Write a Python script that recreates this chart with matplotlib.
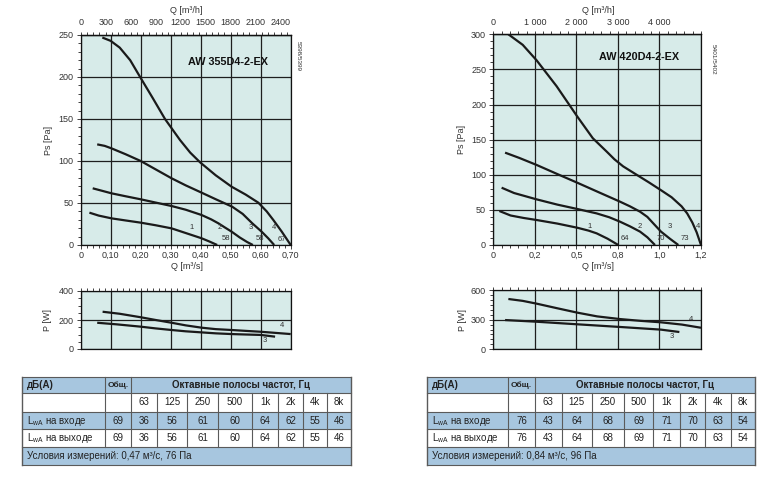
import numpy as np
import matplotlib
matplotlib.use('Agg')
import matplotlib.pyplot as plt
from matplotlib.ticker import MultipleLocator
from matplotlib.patches import Rectangle

plt.rcParams['font.family'] = ['Liberation Sans', 'DejaVu Sans']
plt.rcParams['mathtext.fontset'] = 'custom'
plt.rcParams['mathtext.rm'] = 'Liberation Sans'

# ---------------- DATA ----------------
# Left chart: AW 355D4-2-EX
title_L = "AW 355D4-2-EX"
code_L = "5398/5399"
xticks_L = [0, 0.1, 0.2, 0.3, 0.4, 0.5, 0.6, 0.7]
xlabels_L = ["0", "0,10", "0,20", "0,30", "0,40", "0,50", "0,60", "0,70"]
top_ticks_L = [0, 300, 600, 900, 1200, 1500, 1800, 2100, 2400]
yticks_ps_L = [0, 50, 100, 150, 200, 250]
yticks_p_L = [0, 200, 400]

q1_L = [0.029, 0.06, 0.103, 0.15, 0.2, 0.25, 0.303, 0.353, 0.403, 0.43, 0.455]
ps1_L = [38.5, 35.0, 31.7, 29.2, 26.6, 23.5, 19.8, 13.9, 8.0, 4.0, 0.0]
q2_L = [0.04, 0.103, 0.15, 0.2, 0.25, 0.303, 0.35, 0.403, 0.435, 0.459, 0.48, 0.503, 0.53, 0.555, 0.574]
ps2_L = [67.5, 61.5, 58.0, 54.4, 50.5, 46.4, 42.0, 35.7, 30.5, 25.8, 21.0, 15.9, 9.0, 3.5, 0.0]
q3_L = [0.055, 0.08, 0.103, 0.15, 0.2, 0.25, 0.303, 0.35, 0.403, 0.45, 0.505, 0.54, 0.572, 0.603, 0.625, 0.645]
ps3_L = [119.8, 118.0, 115.0, 108.0, 100.0, 90.0, 79.4, 71.0, 62.3, 54.5, 45.6, 37.0, 25.8, 15.9, 8.0, 0.0]
q4_L = [0.072, 0.10, 0.13, 0.165, 0.198, 0.24, 0.281, 0.331, 0.365, 0.398, 0.45, 0.503, 0.55, 0.592, 0.62, 0.642, 0.67, 0.70]
ps4_L = [247, 243, 235, 220, 200, 175, 150, 125, 110, 98.4, 83, 69.4, 60, 50.4, 40, 29.8, 16, 0.0]
curve_num_L = ["1", "2", "3", "4"]
curve_num_pos_L = [(0.37, 20.6), (0.465, 20.6), (0.568, 20.6), (0.645, 20.6)]
eff_L = ["58", "58", "67"]
eff_pos_L = [(0.483, 8.0), (0.598, 8.0), (0.670, 7.1)]

qp4_L = [0.073, 0.13, 0.2, 0.25, 0.303, 0.35, 0.403, 0.45, 0.503, 0.55, 0.6, 0.65, 0.70]
p4_L = [257, 243, 219, 200, 181, 163, 147, 137, 131, 125, 119, 111, 103]
qp3_L = [0.055, 0.12, 0.2, 0.25, 0.303, 0.35, 0.40, 0.45, 0.503, 0.55, 0.6, 0.648]
p3_L = [181, 170, 154, 142, 131, 122, 115, 108, 103, 100, 97, 85]
pnum_pos_L = {"4": (0.672, 160), "3": (0.614, 57)}

# Right chart: AW 420D4-2-EX
title_R = "AW 420D4-2-EX"
code_R = "5401/5402"
xticks_R = [0, 0.24, 0.48, 0.72, 0.96, 1.2]
xlabels_R = ["0", "0,2", "0,5", "0,8", "1,0", "1,2"]
top_labels_R = ["0", "1 000", "2 000", "3 000", "4 000"]
yticks_ps_R = [0, 50, 100, 150, 200, 250, 300]
yticks_p_R = [0, 300, 600]

q1_R = [0.035, 0.1, 0.175, 0.25, 0.37, 0.485, 0.55, 0.597, 0.66, 0.722]
ps1_R = [48.4, 42.0, 38.5, 35.6, 30.5, 24.6, 20.5, 16.6, 9.0, 0.0]
q2_R = [0.048, 0.12, 0.25, 0.37, 0.485, 0.597, 0.67, 0.732, 0.79, 0.848, 0.89, 0.934]
ps2_R = [81.6, 74.0, 65.0, 57.5, 51.3, 45.0, 39.5, 33.2, 26.5, 19.0, 11.0, 0.0]
q3_R = [0.068, 0.15, 0.25, 0.37, 0.485, 0.61, 0.732, 0.79, 0.848, 0.89, 0.924, 0.969, 1.02, 1.069]
ps3_R = [131.5, 124.0, 114.0, 101.0, 88.7, 75.0, 61.7, 55.0, 47.4, 40.0, 30.9, 19.0, 9.0, 0.0]
q4_R = [0.087, 0.17, 0.25, 0.366, 0.485, 0.575, 0.655, 0.70, 0.75, 0.815, 0.9, 0.969, 1.03, 1.088, 1.12, 1.15, 1.175, 1.2]
ps4_R = [300, 285, 263, 226, 183, 152, 133, 122, 112, 102, 89, 78, 68, 55, 45, 32, 18, 0.0]
curve_num_R = ["1", "2", "3", "4"]
curve_num_pos_R = [(0.559, 26), (0.843, 26), (1.02, 26), (1.181, 26)]
eff_R = ["64", "70", "73"]
eff_pos_R = [(0.761, 9.5), (0.967, 9.5), (1.107, 9.5)]

qp4_R = [0.087, 0.17, 0.25, 0.37, 0.485, 0.6, 0.732, 0.85, 0.969, 1.09, 1.2]
p4_R = [509, 490, 462, 415, 371, 333, 306, 288, 273, 250, 218]
qp3_R = [0.068, 0.25, 0.485, 0.732, 0.969, 1.075]
p3_R = [296, 279, 253, 226, 199, 175]
pnum_pos_R = {"4": (1.14, 303), "3": (1.034, 127)}

# Tables
bands = ["63", "125", "250", "500", "1k", "2k", "4k", "8k"]
total_L = 69
inlet_L = [36, 56, 61, 60, 64, 62, 55, 46]
outlet_L = [36, 56, 61, 60, 64, 62, 55, 46]
cond_L = "Условия измерений: 0,47 м³/с, 76 Па"
total_R = 76
inlet_R = [43, 64, 68, 69, 71, 70, 63, 54]
outlet_R = [43, 64, 68, 69, 71, 70, 63, 54]
cond_R = "Условия измерений: 0,84 м³/с, 96 Па"

# ---------------- STYLE ----------------
W, H = 772, 478
BG = '#d7ebe9'
GRID = '#1e1e1e'
TXT = '#333333'
LINE = '#1a1a1a'
BLUE = '#a7c6df'
FS_TICK = 6.5

fig = plt.figure(figsize=(W / 100, H / 100), dpi=100)


def rect(l, r, t, b):
    return [l / W, 1 - b / H, (r - l) / W, (b - t) / H]


def style_common(ax):
    ax.set_facecolor(BG)
    for s in ax.spines.values():
        s.set_color('#111111')
        s.set_linewidth(0.9)
    ax.grid(True, which='major', color=GRID, lw=0.9)
    ax.set_axisbelow(True)
    ax.tick_params(which='both', direction='out', colors='#222222',
                   labelcolor=TXT, labelsize=FS_TICK, width=0.6)
    ax.tick_params(which='major', length=2.6)
    ax.tick_params(which='minor', length=2.0)
    ax.tick_params(axis='y', pad=2.6)
    ax.tick_params(axis='x', pad=1.6)


def main_chart(ax, xmax, xt, xl, minor_x, ymax, yt, curves, nums, npos, effs, epos, title, tpos):
    style_common(ax)
    ax.set_xlim(0, xmax)
    ax.set_ylim(0, ymax)
    ax.set_xticks(xt, xl)
    ax.xaxis.set_minor_locator(MultipleLocator(minor_x))
    ax.set_yticks(yt)
    ax.yaxis.set_minor_locator(MultipleLocator(10))
    for q, ps in curves:
        ax.plot(q, ps, color=LINE, lw=1.6, zorder=3, solid_capstyle='butt', solid_joinstyle='round')
    for t, (x, y) in zip(nums, npos):
        ax.text(x, y, t, fontsize=5.5, color=TXT, ha='center', va='center', zorder=4)
    for t, (x, y) in zip(effs, epos):
        ax.text(x, y, t, fontsize=5.5, color=TXT, ha='center', va='center', zorder=4)
    ax.text(tpos[0], tpos[1], title, fontsize=7.8, fontweight='bold', color='#111111',
            ha='center', va='center', zorder=4)


def power_chart(ax, xmax, xt, minor_x, ymax, yt, curves, pnums):
    style_common(ax)
    ax.set_xlim(0, xmax)
    ax.set_ylim(0, ymax)
    ax.set_xticks(xt)
    ax.xaxis.set_minor_locator(MultipleLocator(minor_x))
    ax.xaxis.set_ticks_position('top')
    ax.tick_params(axis='x', which='both', labeltop=False, labelbottom=False)
    ax.tick_params(axis='x', which='major', length=2.0)
    ax.set_yticks(yt)
    ax.yaxis.set_minor_locator(MultipleLocator(50))
    for q, p in curves:
        ax.plot(q, p, color=LINE, lw=1.6, zorder=3, solid_capstyle='butt', solid_joinstyle='round')
    for t, (x, y) in pnums.items():
        ax.text(x, y, t, fontsize=5.5, color=TXT, ha='center', va='center', zorder=4)


# ---- Left main
axL = fig.add_axes(rect(80.7, 290.7, 35, 245))
main_chart(axL, 0.70, xticks_L, xlabels_L, 0.02, 250, yticks_ps_L,
           [(q1_L, ps1_L), (q2_L, ps2_L), (q3_L, ps3_L), (q4_L, ps4_L)],
           curve_num_L, curve_num_pos_L, eff_L, eff_pos_L, title_L, (0.491, 217.5))
secL = axL.secondary_xaxis('top', functions=(lambda q: q * 3600, lambda h: h / 3600))
secL.set_xticks(top_ticks_L, [str(v) for v in top_ticks_L])
secL.xaxis.set_minor_locator(MultipleLocator(75))
secL.tick_params(which='both', direction='out', colors='#222222', labelcolor=TXT,
                 labelsize=FS_TICK, width=0.6, pad=3.0)
secL.tick_params(which='major', length=2.4)
secL.tick_params(which='minor', length=2.0)
secL.spines['top'].set_linewidth(0.9)
axL.set_xlabel("Q [m³/s]", fontsize=6.5, color=TXT, va='center')
axL.xaxis.set_label_coords(0.505, -0.103)
axL.set_ylabel("Ps [Pa]", fontsize=6.5, color=TXT, va='center')
axL.yaxis.set_label_coords(-0.154, 0.5)
axL.text(0.505, 1.119, "Q [m³/h]", transform=axL.transAxes, fontsize=6.5, color=TXT,
         ha='center', va='center')

# ---- Left power
axLp = fig.add_axes(rect(80.7, 290.7, 291, 349))
power_chart(axLp, 0.70, xticks_L, 0.02, 400, yticks_p_L,
            [(qp4_L, p4_L), (qp3_L, p3_L)], pnum_pos_L)
axLp.set_ylabel("P [W]", fontsize=6.5, color=TXT, va='center')
axLp.yaxis.set_label_coords(-0.159, 0.5)

# ---- Right main
axR = fig.add_axes(rect(493.3, 701, 34.3, 245))
main_chart(axR, 1.2, xticks_R, xlabels_R, 0.048, 300, yticks_ps_R,
           [(q1_R, ps1_R), (q2_R, ps2_R), (q3_R, ps3_R), (q4_R, ps4_R)],
           curve_num_R, curve_num_pos_R, eff_R, eff_pos_R, title_R, (0.842, 267))
secR = axR.secondary_xaxis('top')
secR.set_xticks(xticks_R[:len(top_labels_R)], top_labels_R)
secR.xaxis.set_minor_locator(MultipleLocator(0.048))
secR.tick_params(which='both', direction='out', colors='#222222', labelcolor=TXT,
                 labelsize=FS_TICK, width=0.6, pad=3.0)
secR.tick_params(which='major', length=2.4)
secR.tick_params(which='minor', length=2.0)
secR.spines['top'].set_linewidth(0.9)
axR.set_xlabel("Q [m³/s]", fontsize=6.5, color=TXT, va='center')
axR.xaxis.set_label_coords(0.5055, -0.103)
axR.set_ylabel("Ps [Pa]", fontsize=6.5, color=TXT, va='center')
axR.yaxis.set_label_coords(-0.152, 0.5)
axR.text(0.5055, 1.115, "Q [m³/h]", transform=axR.transAxes, fontsize=6.5, color=TXT,
         ha='center', va='center')

# ---- Right power
axRp = fig.add_axes(rect(493.3, 701, 290, 349.3))
power_chart(axRp, 1.2, xticks_R, 0.048, 600, yticks_p_R,
            [(qp4_R, p4_R), (qp3_R, p3_R)], pnum_pos_R)
axRp.set_ylabel("P [W]", fontsize=6.5, color=TXT, va='center')
axRp.yaxis.set_label_coords(-0.146, 0.5)

# ---- Overlay for codes and tables
tax = fig.add_axes([0, 0, 1, 1])
tax.set_xlim(0, W)
tax.set_ylim(H, 0)
tax.axis('off')
tax.set_zorder(-1)

tax.text(298.3, 56, code_L, rotation=270, fontsize=4.6, color=TXT, ha='center', va='center')
tax.text(713, 59, code_R, rotation=270, fontsize=4.6, color=TXT, ha='center', va='center')


def draw_table(cols, rows, total, inlet, outlet, cond):
    fills = [BLUE, 'white', BLUE, 'white', BLUE]
    for i in range(5):
        tax.add_patch(Rectangle((cols[0], rows[i]), cols[-1] - cols[0], rows[i + 1] - rows[i],
                                fc=fills[i], ec='none'))
    lc = '#5a5a5a'
    for y in rows:
        tax.plot([cols[0], cols[-1]], [y, y], color=lc, lw=0.8)
    for j, x in enumerate(cols):
        if j in (0, len(cols) - 1):
            tax.plot([x, x], [rows[0], rows[5]], color=lc, lw=1.0)
        elif j in (1, 2):
            tax.plot([x, x], [rows[0], rows[4]], color=lc, lw=0.8)
        else:
            tax.plot([x, x], [rows[1], rows[4]], color=lc, lw=0.8)
    mid = [(rows[i] + rows[i + 1]) / 2 for i in range(5)]
    fs = 7
    tc = '#222222'
    tax.text(cols[0] + 5, mid[0], "дБ(A)", fontsize=fs, fontweight='bold', color=tc,
             ha='left', va='center')
    tax.text((cols[1] + cols[2]) / 2, mid[0], "Общ.", fontsize=6, fontweight='bold', color=tc,
             ha='center', va='center')
    tax.text((cols[2] + cols[-1]) / 2, mid[0], "Октавные полосы частот, Гц", fontsize=fs,
             fontweight='bold', color=tc, ha='center', va='center')
    for k, b in enumerate(bands):
        tax.text((cols[k + 2] + cols[k + 3]) / 2, mid[1], b, fontsize=fs, color=tc,
                 ha='center', va='center')
    for r, lab, vals in ((2, "на входе", inlet), (3, "на выходе", outlet)):
        tax.text(cols[0] + 5, mid[r], r"L$_{\mathregular{wA}}$ " + lab, fontsize=fs, color=tc,
                 ha='left', va='center')
        tax.text((cols[1] + cols[2]) / 2, mid[r], str(total), fontsize=fs, color=tc,
                 ha='center', va='center')
        for k, v in enumerate(vals):
            tax.text((cols[k + 2] + cols[k + 3]) / 2, mid[r], str(v), fontsize=fs, color=tc,
                     ha='center', va='center')
    tax.text(cols[0] + 5, mid[4], cond, fontsize=fs, color=tc, ha='left', va='center')


rows_T = [377.3, 392.7, 411.7, 429.3, 446.7, 465.0]
cols_TL = [22.3, 105, 131, 157, 187, 218, 252, 278, 303, 327, 351]
cols_TR = [427.3, 508.3, 535, 561.7, 591.7, 624, 653, 680, 705, 730.7, 755]
draw_table(cols_TL, rows_T, total_L, inlet_L, outlet_L, cond_L)
draw_table(cols_TR, rows_T, total_R, inlet_R, outlet_R, cond_R)

fig.savefig('out.png', dpi=100)
